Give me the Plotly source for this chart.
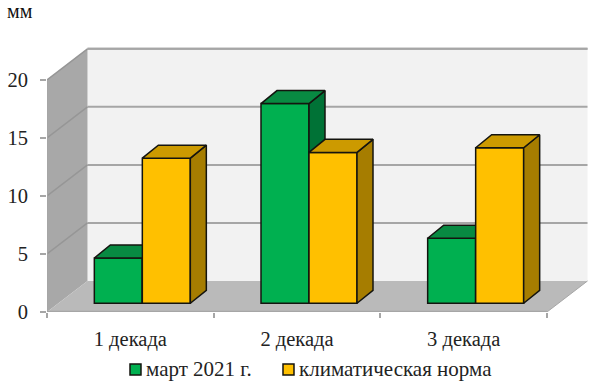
import plotly.graph_objects as go

categories = ["1 декада", "2 декада", "3 декада"]
march_2021 = [3.9, 17.2, 5.6]
climate_norm = [12.5, 13.0, 13.4]
y_ticks = [0, 5, 10, 15, 20]
series_names = ["март 2021 г.", "климатическая норма"]

W, H = 596, 384
X0, Y0 = 47, 312           # pixel of axis origin
PX, PY = 166.67, 11.6      # pixels per category / per y-unit
XMAX, YMAX = 3.264, 23.0
WALL_DX, WALL_DY = 40.5 / PX, 31 / PY
BAR_DX, BAR_DY = 16 / PX, 13 / PY
BASE = 0.75
SHIFT = 0.072
BW = 0.288
FONT = "Liberation Serif"
GRID = "#A6A6A6"
OUT = "#14140f"

n = len(categories)
idx = list(range(n))


def path(pts):
    return "M" + "L".join(f"{x},{y}" for x, y in pts) + "Z"


shapes = [
    dict(type="path", layer="below", line_width=0, fillcolor="#F2F2F2",
         path=path([(WALL_DX, WALL_DY), (n + WALL_DX, WALL_DY),
                    (n + WALL_DX, 20 + WALL_DY), (WALL_DX, 20 + WALL_DY)])),
    dict(type="path", layer="below", line_width=0, fillcolor="#A8A8A8",
         path=path([(0, 0), (WALL_DX, WALL_DY), (WALL_DX, 20 + WALL_DY), (0, 20)])),
    dict(type="path", layer="below", line_width=0, fillcolor="#BABABA",
         path=path([(0, 0), (n, 0), (n + WALL_DX, WALL_DY), (WALL_DX, WALL_DY)])),
]
for v in y_ticks[1:]:
    shapes.append(dict(type="line", layer="below", x0=WALL_DX, x1=n + WALL_DX,
                       y0=v + WALL_DY, y1=v + WALL_DY, line=dict(color=GRID, width=2)))
    shapes.append(dict(type="line", layer="below", x0=0, x1=WALL_DX,
                       y0=v, y1=v + WALL_DY, line=dict(color="#969696", width=1.5)))

fig = go.Figure()


def add_series(vals, name, off, front, top, side, xa, ya):
    centers = [i + 0.5 + SHIFT + off for i in idx]
    fig.add_trace(go.Bar(x=centers, y=vals, base=[BASE] * n, width=[BW] * n, name=name,
                         marker=dict(color=front, line=dict(color=OUT, width=1.5)),
                         showlegend=False, xaxis=xa, yaxis=ya))
    for c, v in zip(centers, vals):
        l, r = c - BW / 2, c + BW / 2
        t = BASE + v
        tx = [l, l + BAR_DX, r + BAR_DX, r, l]
        ty = [t, t + BAR_DY, t + BAR_DY, t, t]
        sx = [r, r + BAR_DX, r + BAR_DX, r, r]
        sy = [BASE, BASE + BAR_DY, t + BAR_DY, t, BASE]
        for px_, py_, col in ((sx, sy, side), (tx, ty, top)):
            fig.add_trace(go.Scatter(x=px_, y=py_, mode="lines", fill="toself", fillcolor=col,
                                     line=dict(color=OUT, width=1.5), hoverinfo="skip",
                                     showlegend=False, xaxis=xa, yaxis=ya))


add_series(march_2021, series_names[0], -BW / 2, "#00B050", "#088A42", "#007236", "x", "y")
add_series(climate_norm, series_names[1], BW / 2, "#FFC000", "#CC9A00", "#A67D00", "x2", "y2")

# front edges of the floor and side wall, plus the upper edge of the back wall
for xs, ys, w in (([0, n], [0, 0], 2.5), ([0, 0], [0, 20], 1.5),
                  ([WALL_DX, n + WALL_DX], [20 + WALL_DY, 20 + WALL_DY], 2),
                  ([n, n + WALL_DX], [0, WALL_DY], 1)):
    fig.add_trace(go.Scatter(x=xs, y=ys, mode="lines", line=dict(color=GRID, width=w),
                             cliponaxis=False, hoverinfo="skip", showlegend=False))

ml, mb = X0, H - Y0
plot_w, plot_h = XMAX * PX, YMAX * PY
mr, mt = W - ml - plot_w, H - mb - plot_h


def xp(px):
    return (px - ml) / plot_w


def yp(py):
    return (H - mb - py) / plot_h


annotations = [
    dict(text="мм", xref="paper", yref="paper", x=xp(5), y=yp(11), xanchor="left", yanchor="middle",
         showarrow=False, font=dict(family=FONT, size=20, color="#111111")),
    dict(text=series_names[0], xref="paper", yref="paper", x=xp(144), y=yp(369), xanchor="left",
         yanchor="middle", showarrow=False, font=dict(family=FONT, size=21, color="#222222")),
    dict(text=series_names[1], xref="paper", yref="paper", x=xp(297), y=yp(369), xanchor="left",
         yanchor="middle", showarrow=False, font=dict(family=FONT, size=21, color="#222222")),
]
for x_, col in ((130, "#00B050"), (283, "#FFC000")):
    shapes.append(dict(type="rect", xref="paper", yref="paper", x0=xp(x_), x1=xp(x_ + 11),
                       y0=yp(364), y1=yp(375), fillcolor=col, line=dict(color=OUT, width=1.5)))

tick_font = dict(family=FONT, size=20.5, color="#222222")
fig.update_layout(
    width=W, height=H, autosize=False,
    margin=dict(l=ml, r=mr, t=mt, b=mb, pad=0),
    paper_bgcolor="white", plot_bgcolor="rgba(0,0,0,0)",
    barmode="overlay", showlegend=False, shapes=shapes, annotations=annotations,
    xaxis=dict(range=[0, XMAX], showgrid=False, zeroline=False, showline=False,
               tickmode="array", tickvals=[i + 0.5 for i in idx], ticktext=categories,
               ticks="", ticklabelstandoff=12, tickfont=tick_font,
               minor=dict(tickmode="array", tickvals=list(range(n + 1)), ticks="outside",
                          ticklen=5, tickwidth=1.5, tickcolor=GRID, showgrid=False)),
    yaxis=dict(range=[0, YMAX], showgrid=False, zeroline=False, showline=False,
               tickmode="array", tickvals=y_ticks, ticks="outside", ticklen=6, tickwidth=1.5,
               tickcolor=GRID, ticklabelstandoff=8, tickfont=tick_font),
    xaxis2=dict(range=[0, XMAX], overlaying="x", visible=False),
    yaxis2=dict(range=[0, YMAX], overlaying="y", visible=False),
)

fig.write_html("out.html", config={"displayModeBar": False},
               post_script="document.body.style.margin='0';")
